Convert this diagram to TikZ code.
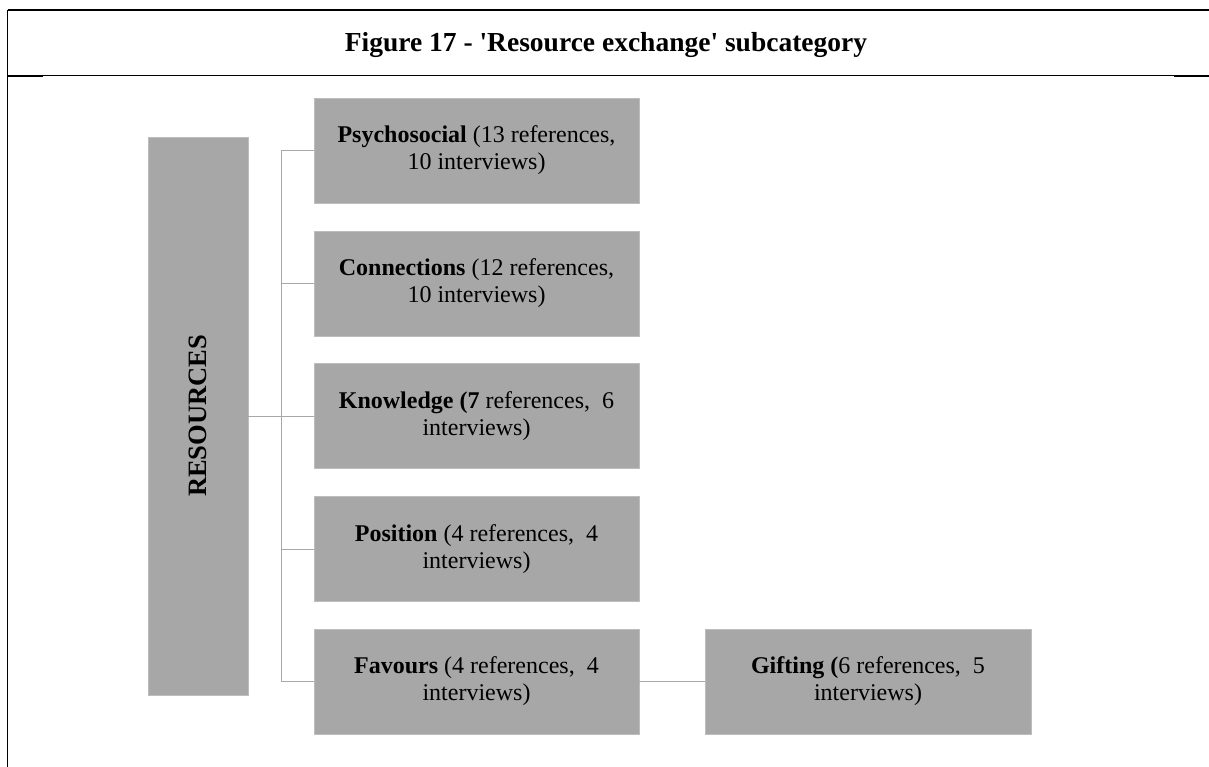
\documentclass[tikz,border=0pt]{standalone}
\usepackage{fontspec}
\setmainfont{Liberation Serif}
\definecolor{boxgray}{HTML}{A7A7A7}
\definecolor{boxedge}{HTML}{BDBDBD}
\definecolor{linkgray}{HTML}{A8A8A8}
\begin{document}
\begin{tikzpicture}[x=1pt,y=-1pt,
  box/.style={fill=boxgray, draw=boxedge, line width=0.6pt, inner sep=0pt,
    minimum width=325pt, minimum height=105pt, align=center,
    font=\fontsize{24}{27}\selectfont},
  link/.style={draw=linkgray, line width=1pt},
  rule/.style={line width=1.8pt}]
  \useasboundingbox (0,0) rectangle (1209,767);

  % frame of the table cell
  \draw[rule] (7.5,10.2) -- (1209,10.2);
  \draw[rule] (7.5,10) -- (7.5,767);
  \draw[line width=1pt] (7.5,75.5) -- (1209,75.5);
  \draw[line width=2pt] (7.5,76) -- (43,76);
  \draw[line width=2pt] (1174,76) -- (1209,76);

  % title
  \node[anchor=base, font=\fontsize{27.5}{30}\selectfont\bfseries] (title) at (606,52)
    {Figure 17 - \textquotesingle Resource exchange\textquotesingle{} subcategory};

  % category box
  \node[box, minimum width=100pt, minimum height=558pt] (res) at (198,416) {};
  \node[rotate=90, font=\fontsize{26.5}{30}\selectfont\bfseries] (reslabel) at (res.center) {RESOURCES};

  % subcategory boxes
  \node[box] (psy) at (476.5,150.5) {\textbf{Psychosocial} (13 references,\\10 interviews)};
  \node[box] (con) at (476.5,283.5) {\textbf{Connections} (12 references,\\10 interviews)};
  \node[box] (kno) at (476.5,416) {\textbf{Knowledge (7} references,\ \ 6\\interviews)};
  \node[box] (pos) at (476.5,549) {\textbf{Position} (4 references,\ \ 4\\interviews)};
  \node[box] (fav) at (476.5,681.5) {\textbf{Favours} (4 references,\ \ 4\\interviews)};
  \node[box, minimum width=326pt] (gif) at (868,681.5) {\textbf{Gifting (}6 references,\ \ 5\\interviews)};

  % connectors
  \coordinate (busTop) at (281,150.5);
  \coordinate (busBot) at (281,681.5);
  \draw[link] (busTop) -- (busBot);
  \draw[link] (res.east) -- (res.east -| busTop);
  \foreach \n in {psy,con,kno,pos,fav}
    \draw[link] (\n.west -| busTop) -- (\n.west);
  \draw[link] (fav.east) -- (gif.west);
\end{tikzpicture}
\end{document}
